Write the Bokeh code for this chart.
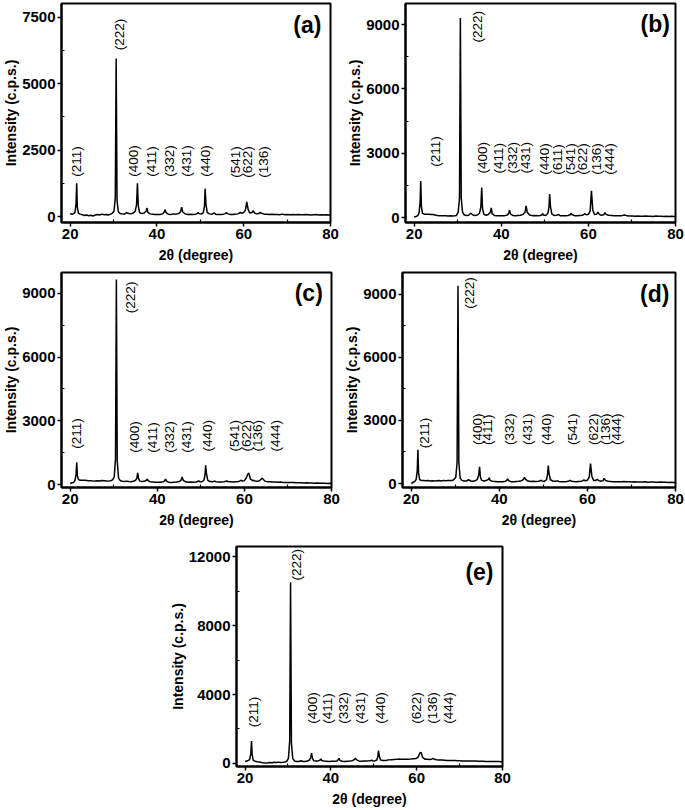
from math import pi
from bokeh.plotting import figure
from bokeh.layouts import column, row
from bokeh.models import Range1d, FixedTicker, ColumnDataSource, Spacer
from bokeh.core.properties import value
from bokeh.embed import file_html
from bokeh.resources import INLINE

FONT = "Liberation Sans"

# shared 2-theta grid (degree)
two_theta = [
    20.0, 20.4, 20.8, 21.1, 21.35, 21.5, 21.65, 21.9, 22.3, 22.8,
    23.3, 23.8, 24.3, 24.8, 25.3, 25.8, 26.3, 26.8, 27.3, 27.8,
    28.3, 28.8, 29.3, 29.7, 30.1, 30.4, 30.6, 30.8, 31.1, 31.5,
    32.0, 32.5, 33.0, 33.5, 34.0, 34.5, 35.0, 35.3, 35.5, 35.7,
    36.0, 36.5, 37.0, 37.5, 37.7, 37.9, 38.4, 39.0, 39.6, 40.2,
    40.8, 41.4, 41.7, 41.9, 42.1, 42.6, 43.2, 43.8, 44.4, 45.0,
    45.45, 45.7, 45.95, 46.5, 47.1, 47.7, 48.3, 48.9, 49.3, 49.5,
    49.7, 50.2, 50.7, 50.95, 51.1, 51.3, 51.6, 52.1, 52.7, 53.0,
    53.2, 53.5, 54.1, 54.7, 55.3, 55.8, 56.0, 56.2, 56.8, 57.4,
    58.0, 58.6, 59.0, 59.2, 59.5, 60.0, 60.4, 60.7, 61.0, 61.4,
    61.9, 62.2, 62.5, 63.0, 63.5, 63.8, 64.1, 64.7, 65.3, 65.9,
    66.5, 67.1, 67.7, 68.3, 68.9, 69.5, 70.1, 70.7, 71.3, 71.9,
    72.5, 73.1, 73.7, 74.3, 74.9, 75.5, 76.1, 76.7, 77.3, 77.9,
    78.5, 79.1, 79.7, 80.0,
]

intensity_a = [
    120, 80, 110, 160, 450, 1250, 350, 130, 90, 70,
    40, 60, 30, 50, 20, 60, 80, 60, 90, 70,
    80, 60, 90, 120, 200, 700, 5950, 600, 180, 110,
    100, 90, 150, 110, 100, 130, 200, 450, 1250, 400,
    150, 110, 130, 200, 320, 160, 100, 90, 80, 80,
    80, 110, 180, 260, 150, 90, 80, 100, 90, 110,
    180, 350, 170, 100, 80, 90, 80, 90, 110, 150,
    110, 90, 150, 400, 1050, 450, 150, 100, 90, 120,
    130, 90, 80, 80, 90, 110, 150, 110, 80, 80,
    90, 100, 130, 160, 120, 150, 250, 550, 280, 130,
    150, 220, 130, 100, 110, 160, 120, 90, 90, 80,
    90, 80, 80, 70, 90, 70, 80, 70, 80, 70,
    80, 70, 70, 80, 70, 60, 70, 80, 60, 70,
    60, 70, 60, 50,
]

intensity_b = [
    30, 50, 90, 200, 700, 1700, 500, 200, 160, 150,
    150, 140, 140, 120, 100, 90, 80, 90, 80, 70,
    80, 70, 80, 100, 250, 900, 9300, 900, 250, 120,
    100, 110, 200, 120, 100, 120, 200, 500, 1400, 400,
    150, 110, 140, 250, 450, 180, 100, 90, 80, 90,
    90, 120, 200, 350, 170, 100, 90, 100, 110, 150,
    250, 550, 250, 120, 90, 100, 90, 100, 120, 180,
    120, 100, 200, 500, 1100, 500, 170, 100, 110, 130,
    140, 90, 80, 90, 100, 130, 200, 140, 90, 90,
    100, 110, 150, 180, 130, 150, 300, 1250, 350, 140,
    160, 250, 150, 110, 130, 230, 140, 110, 100, 90,
    90, 80, 90, 120, 80, 70, 70, 60, 70, 60,
    60, 70, 60, 60, 50, 70, 60, 60, 50, 60,
    50, 60, 50, 40,
]

intensity_c = [
    50, 80, 100, 200, 500, 1050, 400, 230, 200, 200,
    200, 190, 180, 180, 160, 170, 180, 170, 190, 180,
    170, 160, 180, 220, 350, 1200, 9650, 1100, 300, 180,
    150, 140, 160, 140, 130, 150, 200, 300, 550, 280,
    160, 140, 150, 200, 260, 170, 130, 120, 110, 110,
    110, 130, 180, 260, 160, 110, 100, 110, 120, 140,
    200, 350, 200, 130, 110, 120, 110, 120, 140, 170,
    140, 120, 200, 450, 900, 500, 200, 140, 130, 150,
    160, 130, 120, 120, 130, 150, 170, 140, 130, 120,
    130, 140, 170, 200, 170, 180, 300, 450, 550, 250,
    180, 200, 160, 150, 180, 250, 300, 160, 130, 130,
    120, 120, 110, 120, 100, 100, 90, 90, 90, 80,
    80, 80, 70, 80, 70, 70, 60, 70, 60, 60,
    60, 50, 60, 50,
]

intensity_d = [
    0, 60, 100, 200, 600, 1600, 500, 180, 150, 140,
    130, 140, 120, 130, 120, 130, 140, 120, 150, 130,
    140, 150, 140, 200, 300, 1000, 9400, 1000, 250, 150,
    120, 120, 180, 120, 110, 130, 200, 400, 800, 300,
    150, 120, 140, 200, 270, 150, 110, 100, 90, 90,
    90, 110, 160, 220, 140, 90, 90, 100, 110, 130,
    200, 300, 200, 120, 100, 110, 100, 110, 130, 160,
    120, 100, 180, 450, 850, 450, 180, 120, 110, 120,
    130, 100, 90, 90, 100, 120, 160, 120, 100, 90,
    100, 110, 140, 170, 130, 160, 300, 950, 350, 150,
    150, 200, 150, 110, 130, 240, 150, 110, 100, 90,
    90, 90, 80, 100, 80, 80, 70, 80, 70, 70,
    70, 80, 60, 70, 70, 60, 60, 70, 60, 60,
    50, 60, 50, 40,
]

intensity_e = [
    120, 150, 180, 250, 600, 1300, 500, 200, 130, 100,
    90, 60, 40, 30, 40, 60, 50, 70, 60, 80,
    60, 70, 90, 130, 300, 1300, 10500, 1200, 300, 150,
    120, 110, 160, 120, 110, 140, 200, 350, 600, 300,
    160, 140, 150, 200, 260, 170, 140, 130, 120, 130,
    130, 150, 220, 300, 180, 130, 120, 130, 140, 160,
    230, 300, 220, 150, 130, 140, 150, 160, 170, 190,
    160, 150, 200, 400, 750, 400, 200, 170, 180, 190,
    200, 210, 220, 230, 240, 250, 260, 250, 240, 250,
    250, 260, 270, 280, 280, 300, 400, 600, 650, 350,
    250, 260, 240, 230, 250, 300, 250, 220, 200, 200,
    190, 180, 180, 170, 170, 160, 160, 150, 150, 150,
    140, 140, 140, 130, 130, 130, 120, 120, 120, 110,
    110, 110, 100, 100,
]

# peak (hkl) labels: text, x position, y start
hkl_a = ["(211)", "(222)", "(400)", "(411)", "(332)", "(431)", "(440)", "(541)", "(622)", "(136)"]
hkl_a_x = [21.4, 31.3, 34.6, 38.7, 42.8, 46.8, 51.3, 58.1, 60.9, 64.5]
hkl_a_y = [1500, 6260, 1500, 1500, 1500, 1500, 1500, 1460, 1460, 1460]

hkl_b = ["(211)", "(222)", "(400)", "(411)", "(332)", "(431)", "(440)", "(611)", "(541)", "(622)", "(136)", "(444)"]
hkl_b_x = [24.8, 34.5, 35.6, 39.4, 42.6, 45.5, 50.0, 52.9, 55.8, 58.7, 61.8, 64.9]
hkl_b_y = [2366, 8165, 2050, 2050, 2050, 2050, 2000, 2000, 2000, 2000, 2000, 2000]

hkl_c = ["(211)", "(222)", "(400)", "(411)", "(332)", "(431)", "(440)", "(541)", "(622)", "(136)", "(444)"]
hkl_c_x = [21.4, 33.9, 34.8, 38.9, 42.9, 46.7, 51.6, 57.8, 60.4, 62.9, 67.1]
hkl_c_y = [1679, 8067, 1500, 1500, 1500, 1500, 1550, 1550, 1550, 1550, 1550]

hkl_d = ["(211)", "(222)", "(400)", "(411)", "(332)", "(431)", "(440)", "(541)", "(622)", "(136)", "(444)"]
hkl_d_x = [22.9, 33.2, 35.1, 37.4, 42.2, 46.3, 50.7, 56.5, 61.4, 64.0, 66.6]
hkl_d_y = [1672, 8311, 1828, 1828, 1828, 1828, 1828, 1828, 1828, 1828, 1828]

hkl_e = ["(211)", "(222)", "(400)", "(411)", "(332)", "(431)", "(440)", "(622)", "(136)", "(444)"]
hkl_e_x = [21.9, 31.9, 35.6, 39.3, 43.0, 46.8, 51.6, 60.0, 63.8, 67.4]
hkl_e_y = [2104, 10609, 2300, 2300, 2300, 2300, 2300, 2300, 2300, 2300]

panel_tags = ["(a)", "(b)", "(c)", "(d)", "(e)"]
tag_x = [77.9, 78.7, 78.0, 78.6, 77.9]
tag_y = [7200, 9046, 9000, 9000, 11090]

y_ranges = [(-225, 8025), (-230, 9980), (-140, 9980), (-188, 10031), (-174, 12580)]
y_major = [[0, 2500, 5000, 7500], [0, 3000, 6000, 9000], [0, 3000, 6000, 9000],
           [0, 3000, 6000, 9000], [0, 4000, 8000, 12000]]
y_minor = [[1250, 3750, 6250], [1500, 4500, 7500], [1500, 4500, 7500],
           [1500, 4500, 7500], [2000, 6000, 10000]]
x_major = [20, 40, 60, 80]
x_minor = [30, 50, 70]


def make_panel(i, intens, labels, lx, ly, width, height, bl, br, bt, bb):
    p = figure(width=width, height=height, output_backend="svg", toolbar_location=None,
               x_range=Range1d(18, 80), y_range=Range1d(*y_ranges[i]),
               min_border_left=bl, min_border_right=br, min_border_top=bt, min_border_bottom=bb)
    p.grid.visible = False
    p.outline_line_color = "black"
    p.outline_line_width = 2
    p.background_fill_color = "white"
    p.border_fill_color = "white"
    p.xaxis.ticker = FixedTicker(ticks=x_major, minor_ticks=x_minor)
    p.yaxis.ticker = FixedTicker(ticks=y_major[i], minor_ticks=y_minor[i])
    p.xaxis.axis_label = "2\u03b8 (degree)"
    p.yaxis.axis_label = "Intensity (c.p.s.)"
    for ax in (p.xaxis[0], p.yaxis[0]):
        ax.axis_line_width = 2
        ax.axis_line_color = "black"
        ax.major_tick_line_width = 1.5
        ax.major_tick_line_color = "black"
        ax.minor_tick_line_color = "black"
        ax.minor_tick_line_width = 1.2
        ax.major_tick_in = 0
        ax.major_tick_out = 4
        ax.minor_tick_in = 3
        ax.minor_tick_out = 0
        ax.major_label_text_font = FONT
        ax.major_label_text_font_style = "bold"
        ax.major_label_text_font_size = "15px"
        ax.major_label_text_color = "black"
        ax.major_label_standoff = 2
        ax.axis_label_text_font = FONT
        ax.axis_label_text_font_style = "bold"
        ax.axis_label_text_font_size = "14px"
        ax.axis_label_text_color = "black"
        ax.axis_label_standoff = 5
    p.yaxis[0].axis_label_standoff = 0

    p.line(two_theta, intens, line_color="black", line_width=1.5)

    src = ColumnDataSource(dict(x=lx, y=ly, t=labels))
    p.text(x="x", y="y", text="t", source=src, angle=pi / 2,
           text_font=value(FONT), text_font_size="13.5px", text_color="black",
           text_align="left", text_baseline="middle")
    p.text(x=[tag_x[i]], y=[tag_y[i]], text=[panel_tags[i]],
           text_font=value(FONT), text_font_style="bold", text_font_size="23px",
           text_color="black", text_align="right", text_baseline="middle")
    return p


pa = make_panel(0, intensity_a, hkl_a, hkl_a_x, hkl_a_y, 340, 265, 57, 10, 3, 42)
pb = make_panel(1, intensity_b, hkl_b, hkl_b_x, hkl_b_y, 345, 265, 65, 10, 3, 42)
pc = make_panel(2, intensity_c, hkl_c, hkl_c_x, hkl_c_y, 340, 265, 57, 9, 7, 41)
pd = make_panel(3, intensity_d, hkl_d, hkl_d_x, hkl_d_y, 345, 265, 62, 10, 7, 41)
pe = make_panel(4, intensity_e, hkl_e, hkl_e_x, hkl_e_y, 346, 280, 67, 10, 16, 44)

layout = column(row(pa, pb), row(pc, pd), row(Spacer(width=166, height=280), pe))

open("out.html", "w").write(file_html(layout, INLINE))
